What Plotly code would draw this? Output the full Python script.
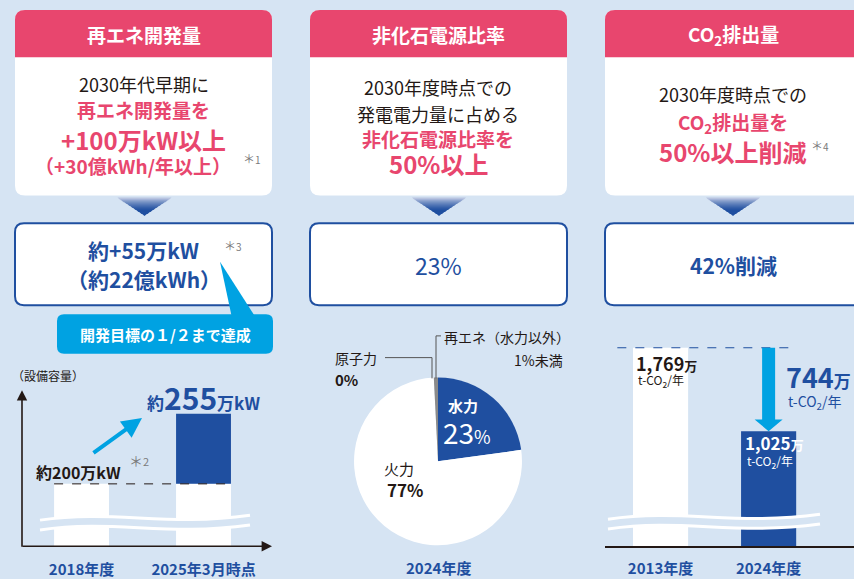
import plotly.graph_objects as go

W, H = 854, 579
BG = "#d6e4f3"
PINK = "#e8466e"
NAVY = "#1f4fa0"
CYAN = "#00a2e2"
INK = "#231815"
NOTE = "#7a7a7a"
FONT = "Noto Sans CJK JP"

# 再エネ設備容量（万kW）
cap_years = ["2018年度", "2025年3月時点"]
cap_values = [200, 255]

# 2024年度 発電電力量構成（%）
mix_labels = ["水力", "火力", "原子力", "再エネ（水力以外）"]
mix_values = [23, 77, 0, 0.8]
mix_colors = [NAVY, "#ffffff", "#8a8a8a", "#8a8a8a"]

# CO2排出量（万t-CO2/年）
co2_years = ["2013年度", "2024年度"]
co2_values = [1769, 1025]


def px(x):
    return x / W


def py(y):
    return 1 - y / H


def rr(x0, y0, x1, y1, r, top_only=False):
    rb = 0 if top_only else r
    return " ".join([
        f"M{px(x0 + r)},{py(y0)}", f"L{px(x1 - r)},{py(y0)}",
        f"Q{px(x1)},{py(y0)} {px(x1)},{py(y0 + r)}",
        f"L{px(x1)},{py(y1 - rb)}",
        f"Q{px(x1)},{py(y1)} {px(x1 - rb)},{py(y1)}",
        f"L{px(x0 + rb)},{py(y1)}",
        f"Q{px(x0)},{py(y1)} {px(x0)},{py(y1 - rb)}",
        f"L{px(x0)},{py(y0 + r)}",
        f"Q{px(x0)},{py(y0)} {px(x0 + r)},{py(y0)}", "Z"])


def poly(pts):
    return "M" + " L".join(f"{px(x)},{py(y)}" for x, y in pts) + " Z"


def wave(x0, x1, yc):
    w = x1 - x0
    return (f"M{px(x0)},{py(yc + 2)} C{px(x0 + 0.35 * w)},{py(yc - 9)} "
            f"{px(x0 + 0.6 * w)},{py(yc + 9)} {px(x1)},{py(yc - 3)}")


shapes = []
annos = []


def path(d, fill=None, line=None, width=0, layer="below", dash=None):
    shapes.append(dict(type="path", path=d, xref="paper", yref="paper", layer=layer,
                       fillcolor=fill if fill else "rgba(0,0,0,0)",
                       line=dict(color=line if line else "rgba(0,0,0,0)", width=width,
                                 dash=dash or "solid")))


def txt(x, y, s, size, color=INK, bold=False, anchor="center"):
    annos.append(dict(x=px(x), y=py(y), xref="paper", yref="paper", text=f"<b>{s}</b>" if bold else s,
                      showarrow=False, xanchor=anchor, yanchor="middle",
                      font=dict(family=FONT, size=size, color=color)))


# ---- target boxes ----
boxes = [(15, 272, 143.5), (310, 567, 438.5), (605, 880, 733)]
headers = ["再エネ開発量", "非化石電源比率", "CO<sub>2</sub>排出量"]
for (x0, x1, cx), head in zip(boxes, headers):
    path(rr(x0, 10, x1, 198, 10), fill="white")
    path(rr(x0, 10, x1, 58, 10, top_only=True), fill=PINK)
    txt(cx, 35, head, 19, "white", bold=True)
    path(rr(x0, 226, x1, 309, 9), fill="white", line=NAVY, width=2)

# chevrons with gradient
for cx in [144.5, 439, 733]:
    n = 9
    for i in range(n):
        t0, t1 = i / n, (i + 1) / n
        ya, yb = 200 + 18 * t0, 200 + 18 * t1
        ha, hb = 27 * (1 - t0), 27 * (1 - t1)
        k = min(1, ((i + 0.5) / n) ** 0.6 * 1.25)
        c0, c1 = (226, 228, 242), (31, 79, 160)
        col = "rgb(%d,%d,%d)" % tuple(round(a + (b - a) * k) for a, b in zip(c0, c1))
        path(poly([(cx - ha, ya), (cx + ha, ya), (cx + hb, yb + 0.6), (cx - hb, yb + 0.6)]), fill=col)

txt(143.5, 85, "2030年代早期に", 18)
txt(143.5, 111, "再エネ開発量を", 19, PINK, bold=True)
txt(143.5, 141, "+100万kW以上", 24, PINK, bold=True)
txt(133, 168, "（+30億kWh/年以上）", 19, PINK, bold=True)
txt(241, 160, "＊<span style='font-size:10px'>1</span>", 12, NOTE, anchor="left")

txt(438.5, 88, "2030年度時点での", 18)
txt(438.5, 115, "発電電力量に占める", 18)
txt(438.5, 140, "非化石電源比率を", 19, PINK, bold=True)
txt(438.5, 166, "50%以上", 24, PINK, bold=True)

txt(733, 95, "2030年度時点での", 18)
txt(733, 124, "CO<sub>2</sub>排出量を", 19, PINK, bold=True)
txt(732, 153, "50%以上削減", 24, PINK, bold=True)
txt(809, 147, "＊<span style='font-size:10px'>4</span>", 12, NOTE, anchor="left")

txt(143, 253, "約+55万kW", 21, NAVY, bold=True)
txt(222, 248, "＊<span style='font-size:10px'>3</span>", 12, NOTE, anchor="left")
txt(144, 282, "（約22億kWh）", 21, NAVY, bold=True)
txt(438, 268, "23%", 23, NAVY)
txt(733, 268, "42%削減", 21, NAVY, bold=True)

# callout
path(poly([(220, 265), (232, 322), (256, 322)]), fill=CYAN, layer="above")
path(rr(57, 318, 273, 358, 7), fill=CYAN, layer="above")
txt(165, 339, "開発目標の１/２まで達成", 15, "white", bold=True)

# ---- chart 1: capacity ----
base_cap = cap_values[0]
idx1 = list(range(len(cap_years)))
fig = go.Figure()
fig.add_trace(go.Bar(x=idx1, y=[min(v, base_cap) for v in cap_values], width=0.45,
                     marker=dict(color="white", line_width=0), xaxis="x", yaxis="y"))
fig.add_trace(go.Bar(x=idx1, y=[v - base_cap for v in cap_values], base=[base_cap] * len(cap_values),
                     width=0.45, marker=dict(color=NAVY, line_width=0), xaxis="x", yaxis="y"))
shapes.append(dict(type="line", xref="x", yref="y", x0=-0.225, x1=1.225, y0=base_cap, y1=base_cap,
                   line=dict(color=INK, width=1, dash="dash"), layer="above"))
for d, c, w in [(wave(40, 250, 529.5), BG, 9), (wave(40, 250, 524.5), "white", 3),
                (wave(40, 250, 534.5), "white", 3)]:
    path(d, line=c, width=w, layer="above")

annos.append(dict(x=px(22), y=py(395), ax=0, ay=158, xref="paper", yref="paper", text="",
                  showarrow=True, arrowhead=2, arrowsize=1.3, arrowwidth=1.6, arrowcolor=INK))
annos.append(dict(x=px(272), y=py(553), ax=-251, ay=0, xref="paper", yref="paper", text="",
                  showarrow=True, arrowhead=2, arrowsize=1.3, arrowwidth=1.6, arrowcolor=INK))
annos.append(dict(x=px(142), y=py(423), ax=-50, ay=36, xref="paper", yref="paper", text="",
                  showarrow=True, arrowhead=2, arrowsize=1.0, arrowwidth=4, arrowcolor=CYAN))
txt(10, 380, "（設備容量）", 12, anchor="left")
txt(145, 402, "<b>約<span style='font-size:30px'>255</span>万kW</b>", 17, NAVY, anchor="left")
txt(34, 478, "約200万kW", 16, INK, bold=True, anchor="left")
txt(127, 466, "＊<span style='font-size:11px'>2</span>", 14, NOTE, anchor="left")

# ---- chart 2: generation mix ----
fig.add_trace(go.Pie(labels=mix_labels, values=mix_values, sort=False, direction="clockwise",
                     rotation=0, marker=dict(colors=mix_colors, line=dict(width=0)),
                     textinfo="none", hoverinfo="label+percent", showlegend=False,
                     domain=dict(x=[px(353), px(523)], y=[py(552), py(382)])))
txt(463, 410, "水力", 15, "white", bold=True)
txt(467, 437, "23<span style='font-size:18px'>%</span>", 28, "white")
txt(399, 474, "火力", 15)
txt(405, 495, "77%", 17, bold=True)
txt(333, 362, "原子力", 14, anchor="left")
txt(333, 384, "0%", 15, bold=True, anchor="left")
txt(442, 341, "再エネ（水力以外）", 14, anchor="left")
txt(565, 364, "1%未満", 14, anchor="right")
for x0, y0, x1, y1 in [(385, 362, 432, 362), (432, 362, 432, 383), (436, 340, 436, 383), (436, 340, 441, 340)]:
    shapes.append(dict(type="line", xref="paper", yref="paper", x0=px(x0), y0=py(y0), x1=px(x1), y1=py(y1),
                       line=dict(color="#555555", width=1)))
txt(438, 574, "2024年度", 15, NAVY, bold=True)

# ---- chart 3: CO2 ----
idx3 = list(range(len(co2_years)))
fig.add_trace(go.Bar(x=idx3, y=co2_values, width=0.51, marker=dict(color=["white", NAVY], line_width=0),
                     xaxis="x2", yaxis="y2"))
top, now = co2_values
shapes.append(dict(type="line", xref="x2", yref="y2", x0=-0.4, x1=1.26, y0=top, y1=top,
                   line=dict(color=NAVY, width=1.2, dash="dash"), layer="above"))
unit = (553 - 352) / top  # px per unit
sw, hw, hh = 6.5 / 108, 14 / 108, 12 / unit
arrow = [(1 - sw, top), (1 + sw, top), (1 + sw, now + hh), (1 + hw, now + hh), (1, now),
         (1 - hw, now + hh), (1 - sw, now + hh)]
shapes.append(dict(type="path", xref="x2", yref="y2", layer="above", fillcolor=CYAN, line=dict(width=0),
                   path="M" + " L".join(f"{x},{y}" for x, y in arrow) + " Z"))
for d, c, w in [(wave(608, 820, 528.5), BG, 9), (wave(608, 820, 523.5), "white", 3),
                (wave(608, 820, 533.5), "white", 3)]:
    path(d, line=c, width=w, layer="above")

txt(634, 367, f"<b>{top:,}<span style='font-size:13px'>万</span></b>", 18, INK, anchor="left")
txt(636, 385, "t-CO<sub>2</sub>/年", 12, INK, anchor="left")
txt(743, 448, f"<b>{now:,}<span style='font-size:13px'>万</span></b>", 17, "white", anchor="left")
txt(745, 467, "t-CO<sub>2</sub>/年", 12, "white", anchor="left")
txt(784, 381, f"<b><span style='font-size:27px'>{top - now}</span>万</b>", 17, NAVY, anchor="left")
txt(786, 407, "t-CO<sub>2</sub>/年", 14, NAVY, anchor="left")

tick_font = dict(family=FONT, size=15, color=NAVY, weight="bold")
fig.update_layout(
    width=W, height=H,
    margin=dict(l=0, r=0, t=0, b=0),
    paper_bgcolor=BG, plot_bgcolor="rgba(0,0,0,0)",
    barmode="overlay", showlegend=False,
    font=dict(family=FONT, color=INK),
    xaxis=dict(domain=[px(22), px(270)], range=[-0.488, 1.545], tickvals=idx1, ticktext=cap_years,
               showgrid=False, zeroline=False, showline=False, ticks="", tickfont=tick_font,
               ticklabelstandoff=13, fixedrange=True),
    yaxis=dict(domain=[py(553), py(395)], range=[151, 273.5], visible=False, fixedrange=True),
    xaxis2=dict(domain=[px(605), 1], range=[-0.514, 1.79], tickvals=idx3, ticktext=co2_years,
                showgrid=False, zeroline=False, showline=True, linecolor=INK, linewidth=1.5, ticks="",
                tickfont=tick_font, ticklabelstandoff=8, fixedrange=True),
    yaxis2=dict(domain=[py(553), py(340)], range=[0, (553 - 340) / unit], visible=False, fixedrange=True),
    shapes=shapes,
    annotations=annos,
)

fig.write_html("out.html", config={"displayModeBar": False},
               post_script="document.body.style.margin='0';document.body.style.overflow='hidden';")
